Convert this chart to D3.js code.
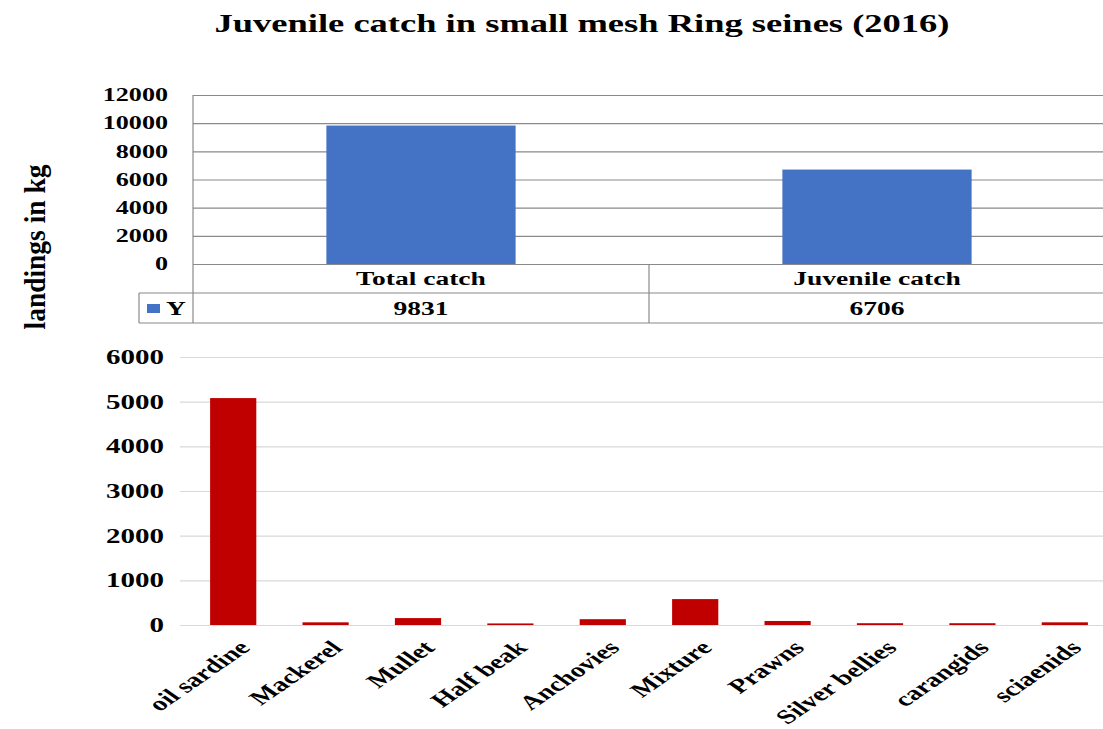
<!DOCTYPE html>
<html><head><meta charset="utf-8">
<script src="https://cdn.jsdelivr.net/npm/d3@7"></script>
<style>
body{margin:0;background:#fff}
text{font-family:"Liberation Serif","Times New Roman",serif;font-weight:bold;fill:#000}
</style>
</head><body><svg id="c" width="1103" height="729"></svg>
<script>
const title = "Juvenile catch in small mesh Ring seines  (2016)";
const yLabel = "landings in kg";
const topCategories = ["Total catch", "Juvenile catch"];
const topValues = [9831, 6706];
const topTicks = [0, 2000, 4000, 6000, 8000, 10000, 12000];
const seriesName = "Y";
const speciesCategories = ["oil sardine", "Mackerel", "Mullet", "Half beak", "Anchovies", "Mixture", "Prawns", "Silver bellies", "carangids", "sciaenids"];
const speciesValues = [5080, 60, 155, 35, 130, 580, 90, 40, 40, 60];
const bottomTicks = [0, 1000, 2000, 3000, 4000, 5000, 6000];

const SX = 1.45; // horizontal stretch of the original picture
const svg = d3.select("#c");

// Title
svg.append("text").attr("x", 582).attr("y", 32).attr("text-anchor", "middle")
  .attr("font-size", 25).attr("textLength", 735).attr("lengthAdjust", "spacingAndGlyphs")
  .text(title);

// Y label
svg.append("g").attr("transform", `translate(45,247) scale(${SX},1) rotate(-90)`)
  .append("text").attr("text-anchor", "middle").attr("font-size", 21)
  .attr("textLength", 165).attr("lengthAdjust", "spacingAndGlyphs").text(yLabel);

// ---------- Top chart ----------
const tL = 193, tR = 1105, tT = 95, tB = 264, r1 = 293, r2 = 323, legL = 139;
const yT = d3.scaleLinear().domain([0, 12000]).range([tB, tT]);
const xT = d3.scaleBand().domain(topCategories).range([tL, tR]);
const lineCol = "#8a8a8a";

svg.append("g").attr("transform", `translate(${tL},0)`)
  .call(d3.axisLeft(yT).tickValues(topTicks).tickSize(-(tR - tL)).tickFormat(""))
  .call(g => { g.select(".domain").remove(); g.selectAll("line").attr("stroke", lineCol).attr("stroke-width", 1.2); });

const bwT = xT.bandwidth() * 0.415;
svg.append("g").selectAll("rect").data(topValues).join("rect")
  .attr("x", (d, i) => xT(topCategories[i]) + (xT.bandwidth() - bwT) / 2)
  .attr("width", bwT)
  .attr("y", d => yT(d)).attr("height", d => tB - yT(d))
  .attr("fill", "#4472C4");

svg.append("g").attr("transform", `translate(${tL},0)`)
  .call(d3.axisLeft(yT).tickValues(topTicks).tickSize(0).tickPadding(0).tickFormat(d3.format("d")))
  .call(g => {
    g.select(".domain").remove();
    g.selectAll("text").attr("x", 0).attr("transform", `translate(-25,0) scale(${SX},1)`)
      .attr("font-size", 18).attr("font-family", null).attr("fill", "#000");
  });

// table lines
const tbl = svg.append("g").attr("stroke", lineCol).attr("stroke-width", 1.2);
tbl.append("line").attr("x1", tL).attr("x2", tL).attr("y1", tT).attr("y2", r2);
tbl.append("line").attr("x1", legL).attr("x2", legL).attr("y1", r1).attr("y2", r2);
tbl.append("line").attr("x1", legL).attr("x2", tR).attr("y1", r1).attr("y2", r1);
tbl.append("line").attr("x1", legL).attr("x2", tR).attr("y1", r2).attr("y2", r2);
topCategories.slice(1).forEach(c => {
  tbl.append("line").attr("x1", xT(c)).attr("x2", xT(c)).attr("y1", tB).attr("y2", r2);
});

// table texts
topCategories.forEach((c, i) => {
  const cx = xT(c) + xT.bandwidth() / 2;
  svg.append("g").attr("transform", `translate(${cx},285) scale(${SX},1)`)
    .append("text").attr("text-anchor", "middle").attr("font-size", 19).text(c);
  svg.append("g").attr("transform", `translate(${cx},315) scale(${SX},1)`)
    .append("text").attr("text-anchor", "middle").attr("font-size", 19).text(topValues[i]);
});
svg.append("rect").attr("x", 147).attr("y", 304).attr("width", 13).attr("height", 9).attr("fill", "#4472C4");
svg.append("g").attr("transform", `translate(166,315) scale(${SX},1)`)
  .append("text").attr("font-size", 19).text(seriesName);

// ---------- Bottom chart ----------
const bL = 180, bR = 1103, bT = 357, bB = 625;
const yB = d3.scaleLinear().domain([0, 6000]).range([bB, bT]);
const xB = d3.scaleBand().domain(speciesCategories).range([187, 1111]).paddingInner(0.5).paddingOuter(0.25);

svg.append("g").attr("transform", `translate(${bL},0)`)
  .call(d3.axisLeft(yB).tickValues(bottomTicks).tickSize(-(bR - bL)).tickFormat(""))
  .call(g => { g.select(".domain").remove(); g.selectAll("line").attr("stroke", "#d9d9d9").attr("stroke-width", 1.2); });

svg.append("g").selectAll("rect").data(speciesValues).join("rect")
  .attr("x", (d, i) => xB(speciesCategories[i]))
  .attr("width", xB.bandwidth())
  .attr("y", d => yB(d)).attr("height", d => bB - yB(d))
  .attr("fill", "#C00000");

svg.append("g").attr("transform", `translate(${bL},0)`)
  .call(d3.axisLeft(yB).tickValues(bottomTicks).tickSize(0).tickPadding(0).tickFormat(d3.format("d")))
  .call(g => {
    g.select(".domain").remove();
    g.selectAll("text").attr("x", 0).attr("transform", `translate(-16,0) scale(${SX},1)`)
      .attr("font-size", 20).attr("font-family", null).attr("fill", "#000");
  });

// x axis labels (rotated)
svg.append("g").attr("transform", `translate(0,${bB})`)
  .call(d3.axisBottom(xB).tickSize(0).tickPadding(0))
  .call(g => {
    g.select(".domain").remove();
    g.selectAll("text")
      .attr("x", 0).attr("y", 0).attr("dy", "0.35em")
      .attr("text-anchor", "end")
      .attr("transform", `translate(11,19) scale(${SX},1) rotate(-45)`)
      .attr("font-size", 20).attr("font-family", null).attr("fill", "#000");
  });
</script>
</body></html>
